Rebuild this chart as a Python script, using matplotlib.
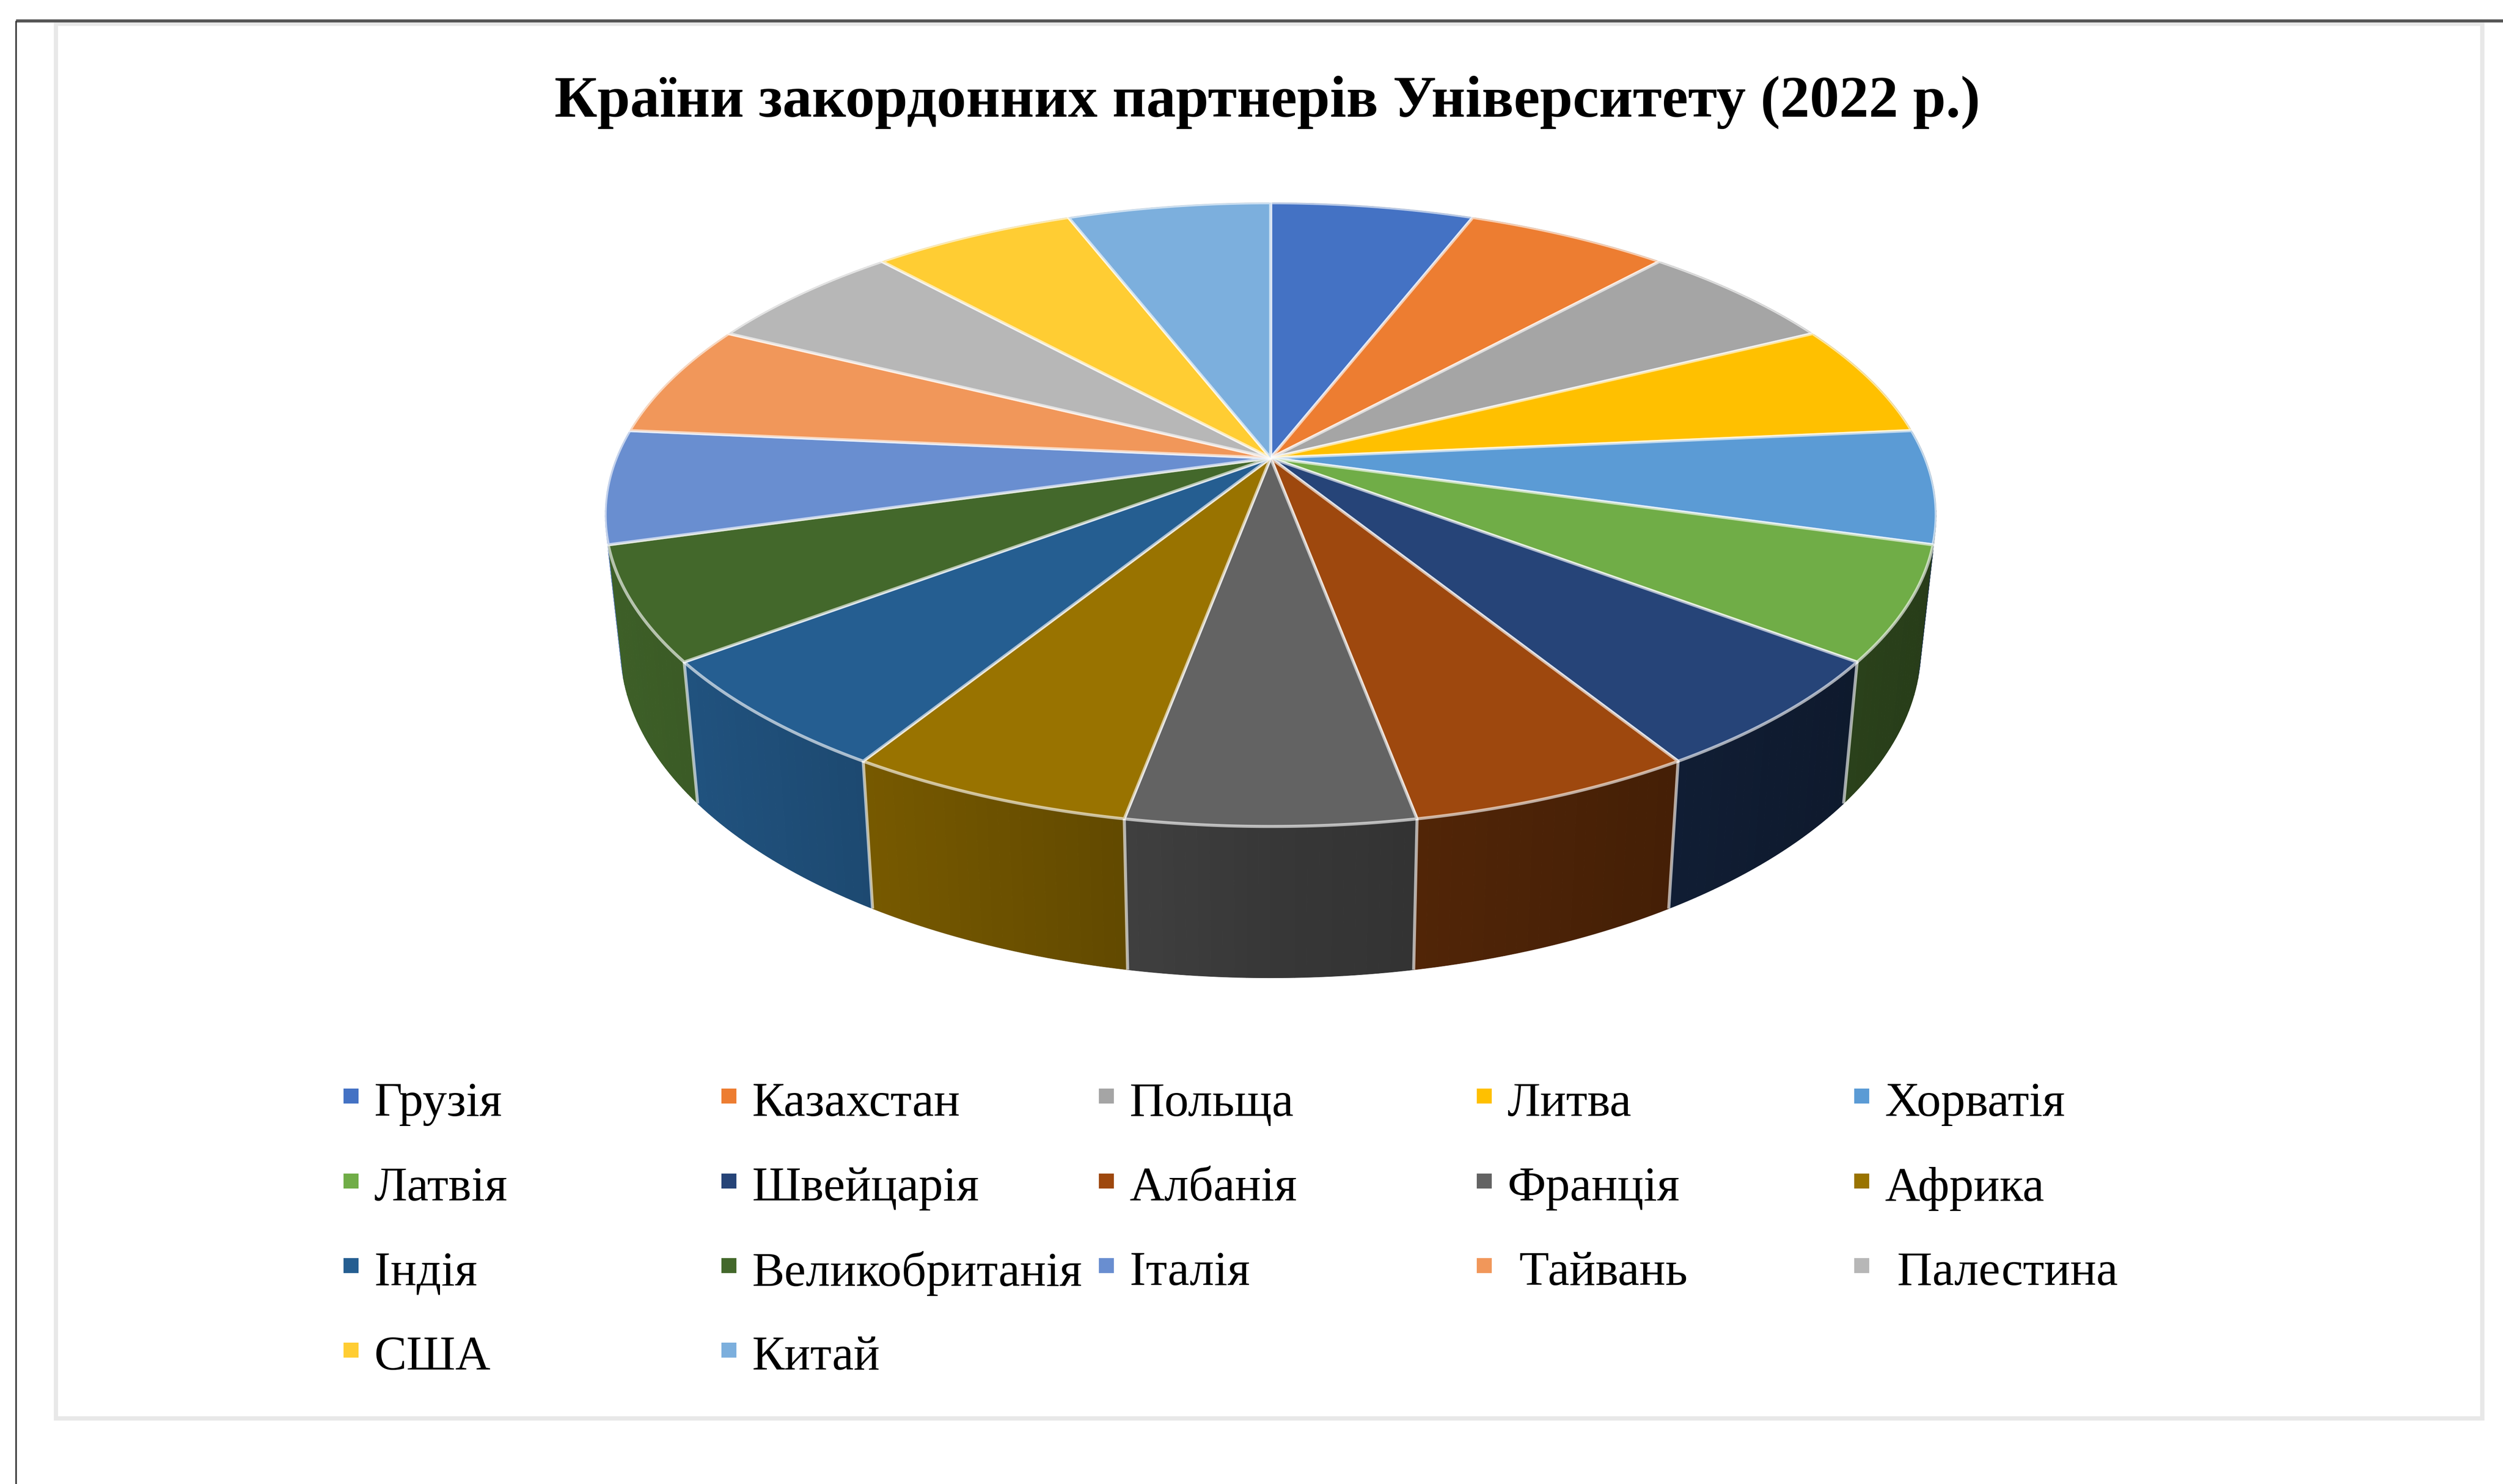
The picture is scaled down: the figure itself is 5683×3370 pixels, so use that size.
import numpy as np
import matplotlib
matplotlib.use('Agg')
import matplotlib.pyplot as plt
from matplotlib.patches import Polygon, Rectangle

plt.rcParams['font.family'] = ['Liberation Serif', 'DejaVu Serif']

title = 'Країни закордонних партнерів Університету (2022 р.)'
countries = ['Грузія', 'Казахстан', 'Польща', 'Литва', 'Хорватія',
             'Латвія', 'Швейцарія', 'Албанія', 'Франція', 'Африка',
             'Індія', 'Великобританія', 'Італія', ' Тайвань', ' Палестина',
             'США', 'Китай']
values = [1, 1, 1, 1, 1, 1, 1, 1, 1, 1, 1, 1, 1, 1, 1, 1, 1]
colors = ['#4472C4', '#ED7D31', '#A5A5A5', '#FFC000', '#5B9BD5',
          '#70AD47', '#264478', '#9E480E', '#636363', '#997300',
          '#255E91', '#43682B', '#698ED0', '#F1975A', '#B7B7B7',
          '#FFCD33', '#7CAFDD']

# everything is laid out in the coordinates of the 1568 wide preview
W, H = 1568, 930
CX, CY = 796, 287
A, B, K = 410, 189, 0.1816
EDGE = (1, 1, 1, 0.62)


def top_rim(theta):
    # circle seen in perspective, theta runs clockwise from the back
    d = 1 + K * np.cos(theta)
    return A * np.sin(theta) / d, -B * np.cos(theta) / d


def low_rim(theta):
    x, y = top_rim(theta)
    return 0.977 * x, 1.06 * y + 81


def shade(color, x):
    f = 0.56 - 0.00085 * x if x < 0 else 0.56 - 0.0005 * x
    return tuple(c * f for c in matplotlib.colors.to_rgb(color))


fig = plt.figure(figsize=(56.83, 33.70), dpi=100)
ax = fig.add_axes([0, 0, 1, 1])
ax.set_xlim(0, W)
ax.set_ylim(H, 0)
ax.axis('off')

# page frame
ax.add_patch(Rectangle((35, 15), 1520, 874, fc='white', ec='#e8e8e8', lw=7))
ax.plot([10, W], [13, 13], color='#555555', lw=5, solid_capstyle='butt')
ax.plot([10, 10], [13, H], color='#333333', lw=2.5, solid_capstyle='butt')

ax.text(794, 64, title, ha='center', va='center', fontsize=96.5,
        fontweight='bold', color='black')

edges = np.cumsum([0] + values) / sum(values) * 2 * np.pi

# side of the pie first, back slices get covered by the top face
order = np.argsort(np.cos((edges[:-1] + edges[1:]) / 2))[::-1]
for i in order:
    t = np.linspace(edges[i], edges[i + 1], 25)
    for t0, t1 in zip(t[:-1], t[1:]):
        seg = np.linspace(t0, t1, 3)
        xa, ya = top_rim(seg)
        xb, yb = low_rim(seg)
        px = np.r_[xa, xb[::-1]] + CX
        py = np.r_[ya, yb[::-1]] + CY
        c = shade(colors[i], xa.mean())
        ax.add_patch(Polygon(np.c_[px, py], fc=c, ec=c, lw=0.8))
for e in edges[:-1]:
    if np.cos(e) < -0.3:
        xa, ya = top_rim(e)
        xb, yb = low_rim(e)
        ax.plot([xa + CX, xb + CX], [ya + CY, yb + CY], color=EDGE, lw=5,
                solid_capstyle='butt')

# top face
for i in range(len(values)):
    t = np.linspace(edges[i], edges[i + 1], 40)
    x, y = top_rim(t)
    pts = np.c_[np.r_[0, x] + CX, np.r_[0, y] + CY]
    ax.add_patch(Polygon(pts, closed=True, fc=colors[i], ec=EDGE, lw=5,
                         joinstyle='round'))

# legend, five columns
for i, name in enumerate(countries):
    col, row = i % 5, i // 5
    mx = 220 + col * 236.6
    my = 689 + row * 53
    ax.scatter([mx], [my - 2], marker='s', s=620, color=colors[i], linewidths=0)
    ax.text(mx + 14.5, my + 3, name, ha='left', va='center', fontsize=79.5, color='black')

fig.savefig('out.png', dpi=100, facecolor='white')
